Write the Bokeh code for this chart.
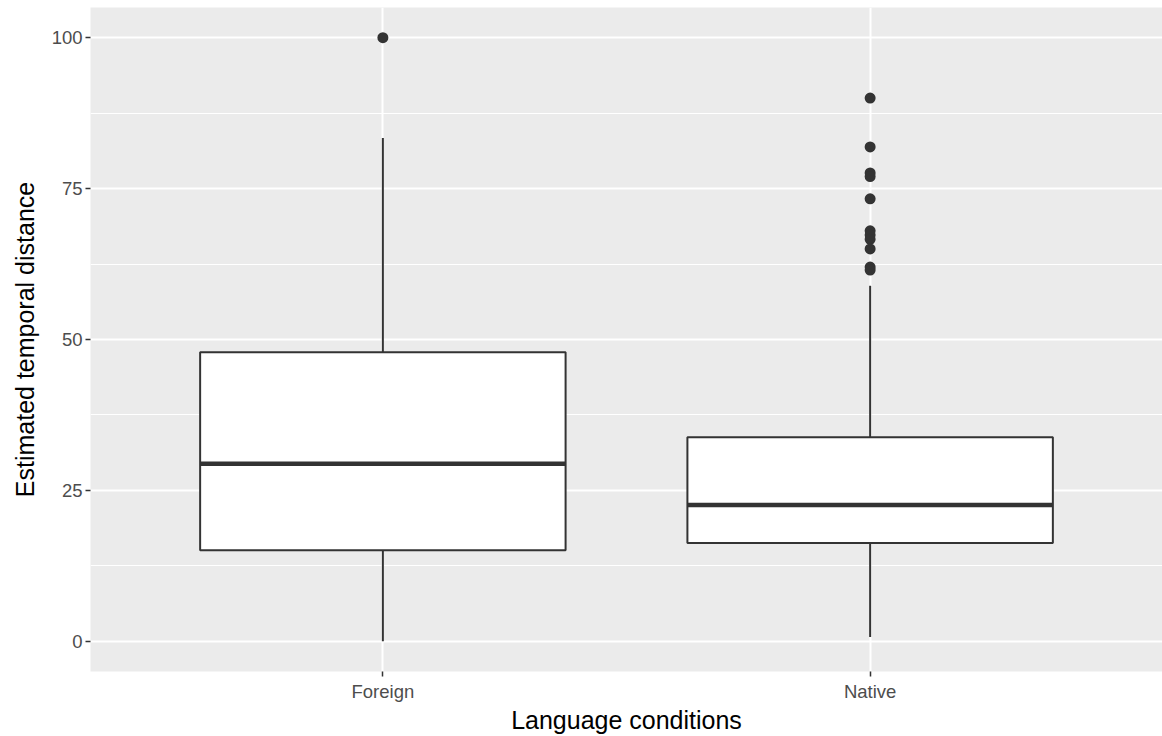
from bokeh.plotting import figure
from bokeh.models import FixedTicker, ColumnDataSource
from bokeh.embed import file_html
from bokeh.resources import INLINE

categories = ["Foreign", "Native"]
positions = [1, 2]
lower_whisker = [0.0, 0.7]
q1 = [15.1, 16.3]
median = [29.4, 22.6]
q3 = [47.9, 33.8]
upper_whisker = [83.4, 58.9]
outliers_foreign = [100.0]
outliers_native = [90.0, 81.9, 77.6, 77.0, 73.3, 68.0, 67.3, 66.6, 65.0, 62.0, 61.5]
box_width = 0.75

FONT = "Liberation Sans"

p = figure(width=1162, height=736, x_range=(0.4, 2.6), y_range=(-5, 105),
           output_backend="svg", toolbar_location=None,
           background_fill_color="#EBEBEB", border_fill_color="white",
           min_border_left=90, min_border_right=0, min_border_top=7, min_border_bottom=4)
p.outline_line_color = None

# grid
p.xgrid.grid_line_color = "white"
p.xgrid.grid_line_width = 2
p.ygrid.grid_line_color = "white"
p.ygrid.grid_line_width = 2
p.ygrid.minor_grid_line_color = "white"
p.ygrid.minor_grid_line_width = 1

p.xaxis.ticker = FixedTicker(ticks=positions)
p.xaxis.major_label_overrides = {1: categories[0], 2: categories[1]}
p.yaxis.ticker = FixedTicker(ticks=[0, 25, 50, 75, 100], minor_ticks=[12.5, 37.5, 62.5, 87.5])

for ax in (p.xaxis, p.yaxis):
    ax.axis_line_color = None
    ax.major_tick_line_color = "#333333"
    ax.major_tick_line_width = 1.5
    ax.major_tick_out = 5
    ax.major_tick_in = 0
    ax.minor_tick_line_color = None
    ax.major_label_text_color = "#4D4D4D"
    ax.major_label_text_font = FONT
    ax.major_label_text_font_size = "18.5px"
    ax.axis_label_text_font = FONT
    ax.axis_label_text_font_size = "25px"
    ax.axis_label_text_font_style = "normal"
    ax.axis_label_text_color = "black"

p.xaxis.axis_label = "Language conditions"
p.yaxis.axis_label = "Estimated temporal distance"
p.xaxis.major_label_standoff = 4
p.yaxis.major_label_standoff = 3
p.xaxis.axis_label_standoff = 1
p.yaxis.axis_label_standoff = 10

src = ColumnDataSource(dict(x=positions, lw=lower_whisker, q1=q1, med=median, q3=q3, uw=upper_whisker,
                            left=[x - box_width / 2 for x in positions],
                            right=[x + box_width / 2 for x in positions]))

p.segment(x0="x", y0="q3", x1="x", y1="uw", source=src, line_color="#333333", line_width=2)
p.segment(x0="x", y0="lw", x1="x", y1="q1", source=src, line_color="#333333", line_width=2)
p.quad(left="left", right="right", bottom="q1", top="q3", source=src,
       fill_color="white", line_color="#333333", line_width=2)
p.segment(x0="left", y0="med", x1="right", y1="med", source=src, line_color="#333333", line_width=4.5)

ox = [positions[0]] * len(outliers_foreign) + [positions[1]] * len(outliers_native)
oy = outliers_foreign + outliers_native
p.scatter(ox, oy, size=11, fill_color="#333333", line_color=None)

open("out.html", "w").write(file_html(p, INLINE))
